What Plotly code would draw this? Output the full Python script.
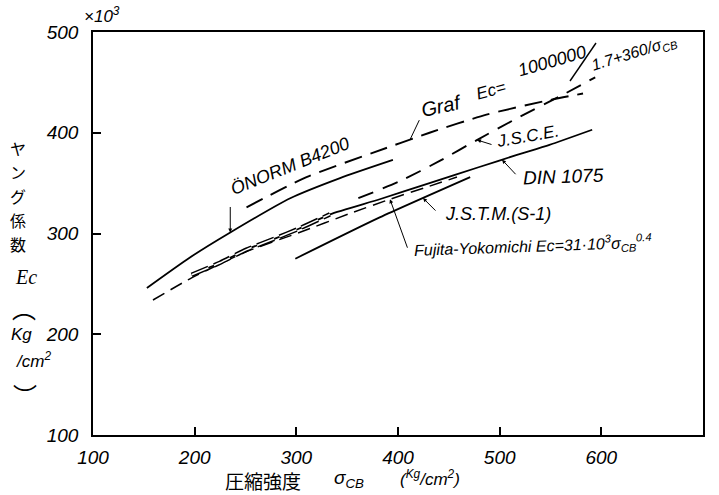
import numpy as np
import plotly.graph_objects as go

# ---------------- data ----------------
x_ticks = [100, 200, 300, 400, 500, 600, 700]
y_ticks = [100, 200, 300, 400, 500]

onorm_x = [153, 195, 235, 294, 343, 395]
onorm_y = [246, 276, 301, 335, 355, 373]

graf_x = [251, 310, 375, 431, 487, 547, 582]
graf_y = [326, 356, 380, 400, 418, 432, 439]

jsce_x = [361, 402, 441, 478, 520, 559, 594]
jsce_y = [335, 352, 372, 393, 416, 436, 455]

din_x = [197, 225, 251, 279, 303, 333, 382, 431, 480, 517, 549, 591]
din_y = [259, 271, 284, 295, 305, 319, 334, 350, 366, 378, 388, 403]

fujita_x = [159, 197, 251, 303, 353, 392, 431, 458]
fujita_y = [234, 256, 282, 301, 320, 334, 347, 356]

jstm_x = [299, 382, 471]
jstm_y = [275, 316, 356]

y_title_chars = ["ヤ", "ン", "グ", "係", "数"]

# ---------------- figure ----------------
LAT = "Liberation Sans"
CJK = "Noto Sans CJK JP"
L, R, T, B = 93, 703, 32, 435

fig = go.Figure()

def line(xs, ys, width=1.8, dash="solid", color="black"):
    fig.add_trace(go.Scatter(x=xs, y=ys, mode="lines", hoverinfo="skip",
                             line=dict(color=color, width=width, dash=dash,
                                       shape="spline", smoothing=0.6)))

line(onorm_x, onorm_y, 1.8)
line(graf_x, graf_y, 1.9, "18px,9px")
line(jsce_x, jsce_y, 1.9, "16px,10px")
line(fujita_x, fujita_y, 1.5, "13px,7px")
line(din_x, din_y, 1.8)
# hollow hatched part of DIN 1075 curve
line(din_x[:6], din_y[:6], 4.5, "18px,6px")
line(din_x[:6], din_y[:6], 1.6, "18px,6px", "white")
line(jstm_x, jstm_y, 1.8)

def P(xp, yp):
    return (xp - L) / (R - L), (B - yp) / (B - T)

def label(text, xp, yp, size=17, angle=0, family=LAT, italic=True, xanchor="center"):
    x, y = P(xp, yp)
    fig.add_annotation(x=x, y=y, xref="paper", yref="paper", text=text,
                       showarrow=False, textangle=angle, xanchor=xanchor,
                       yanchor="middle",
                       font=dict(family=family, size=size, color="black",
                                 style="italic" if italic else "normal"))

def arrow(xs, ys, xd, dx, dy, head=2):
    yd = float(np.interp(xd, xs, ys))
    fig.add_annotation(x=xd, y=yd, xref="x", yref="y", text="", showarrow=True,
                       ax=dx, ay=dy, arrowhead=head, arrowsize=0.8,
                       arrowwidth=1, arrowcolor="black", standoff=0)

# curve labels
label("ÖNORM B4200", 290, 166, 18, -22)
arrow(onorm_x, onorm_y, 235, 0, -27)
label("Graf", 441, 106, 20, -12)
arrow(graf_x, graf_y, 411.8, 10, -21, head=0)
label("Ec=", 491, 90, 17, -15)
label("1000000", 552, 61, 18, -16)
# long fraction slash of the Graf formula
x0, y0 = P(570, 81)
x1, y1 = P(596, 43)
fig.add_shape(type="line", xref="paper", yref="paper", x0=x0, y0=y0, x1=x1, y1=y1,
              line=dict(color="black", width=1.4))
label("1.7+360/σ<sub>CB</sub>", 634, 53, 16, -17)
label("J.S.C.E.", 527, 136, 17, -10)
arrow(jsce_x, jsce_y, 477.7, 16, 5)
label("DIN 1075", 563, 176, 19, -2)
arrow(din_x, din_y, 502.3, 15, 16)
label("J.S.T.M.(S-1)", 498, 214, 18, 0)
arrow(jstm_x, jstm_y, 424.6, 14, 14)
label("Fujita-Yokomichi Ec=31·10<sup>3</sup>σ<sub>CB</sub><sup>0.4</sup>", 412, 246, 16, -2,
      xanchor="left")
arrow(fujita_x, fujita_y, 392.1, 18, 50)

# axis decorations
label("×10<sup>3</sup>", 102, 15, 17)
for i, ch in enumerate(y_title_chars):
    label(ch, 18, 148 + i * 24, 16, 0, CJK, False)
label("Ec", 26, 277, 20, 0, "Liberation Serif")
label("︵", 24, 307, 24, 0, CJK, False)
label("Kg", 21, 334, 17)
label("/cm<sup>2</sup>", 33, 360, 17)
label("︶", 25, 394, 24, 0, CJK, False)
label("圧縮強度", 263, 480, 19, 0, CJK, False)
label("σ<sub>CB</sub>", 349, 479, 19)
label("(<sup>Kg</sup>/cm<sup>2</sup>)", 430, 478, 17)

axis_common = dict(showline=True, linecolor="black", linewidth=1.5, mirror=True,
                   ticks="inside", ticklen=8, tickwidth=1.5, tickcolor="black",
                   showgrid=False, zeroline=False,
                   tickfont=dict(family=LAT, size=19, color="black", style="italic"))

fig.update_xaxes(range=[100, 700], tickvals=x_ticks, ticklabelstandoff=4, **axis_common)
fig.update_yaxes(range=[100, 500], tickvals=y_ticks, ticklabelstandoff=9, **axis_common)

fig.update_layout(width=719, height=495, margin=dict(l=L, r=719 - R, t=T, b=495 - B),
                  plot_bgcolor="white", paper_bgcolor="white", showlegend=False)

fig.write_html("out.html")
